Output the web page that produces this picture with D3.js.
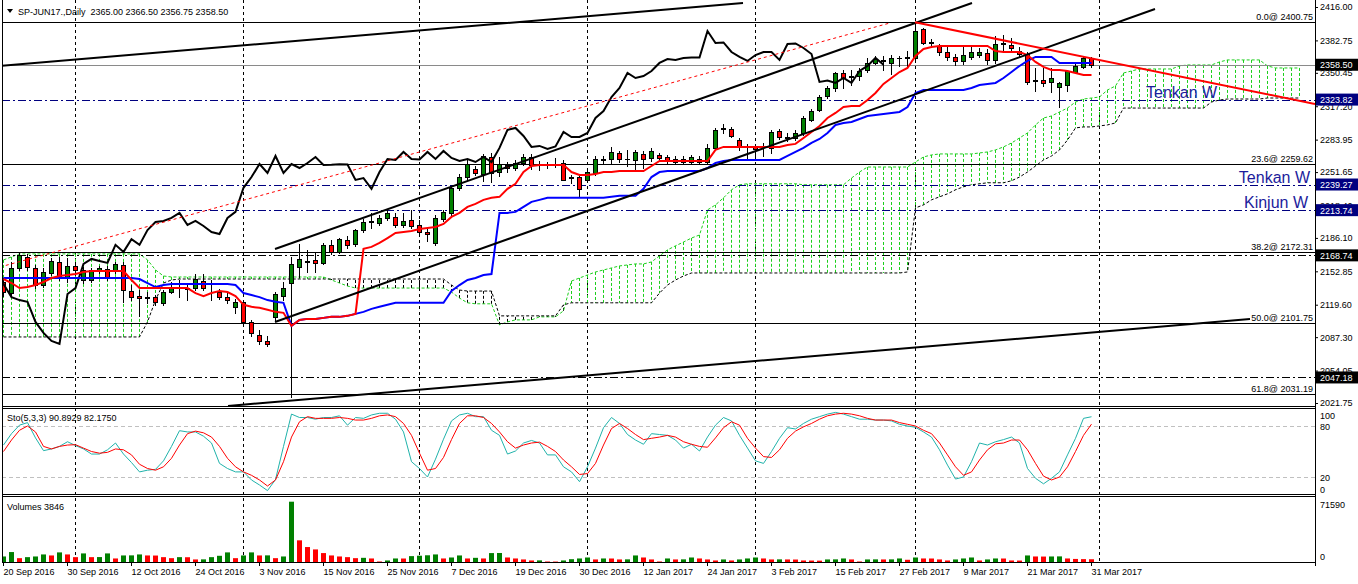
<!DOCTYPE html>
<html><head><meta charset="utf-8">
<script src="https://cdn.jsdelivr.net/npm/d3@7/dist/d3.min.js"></script>
<style>html,body{margin:0;padding:0;background:#fff;overflow:hidden}svg{display:block}</style>
</head><body>
<svg id="chart" width="1358" height="584"></svg>
<script>
// ---------------- DATA ----------------
const xTickBars = [0,8,16,24,32,40,48,56,64,72,80,88,96,104,112,120,128,136];
const xTickLabels = ["20 Sep 2016","30 Sep 2016","12 Oct 2016","24 Oct 2016","3 Nov 2016","15 Nov 2016","25 Nov 2016","7 Dec 2016","19 Dec 2016","30 Dec 2016","12 Jan 2017","24 Jan 2017","3 Feb 2017","15 Feb 2017","27 Feb 2017","9 Mar 2017","21 Mar 2017","31 Mar 2017"];
const monthStartBars = [9,30,52,73,94,114,137];
const priceTicks = [2416.00,2382.75,2350.45,2317.20,2283.95,2251.65,2218.40,2186.10,2152.85,2119.60,2087.30,2054.05,2021.75];

const opens = [2142.2,2131.2,2156.2,2167.2,2156.2,2139.2,2151.2,2162.2,2146.2,2158.2,
2144.2,2144.2,2153.2,2155.2,2153.2,2159.2,2133.2,2128.2,2127.2,2127.2,
2121.5,2132.2,2136.5,2136.2,2136.2,2143.2,2141.2,2132.2,2127.2,2117.5,
2122.5,2102.5,2089.5,2083.5,2107.5,2128.2,2141.2,2157.2,2162.2,2164.2,
2161.2,2179.2,2172.2,2184,2180.2,2194,2202,2201,2206,2207,
2199,2204,2199,2192,2181,2205,2211,2236,2246.7,2254.7,
2249.7,2266.7,2251.7,2258.7,2255.7,2260.7,2266.7,2259.5,2258.7,2259.7,
2260.7,2246.7,2246.7,2243.7,2250.7,2264.7,2264.7,2270.7,2264.7,2263.7,
2269.7,2265.7,2268.7,2266.7,2261.7,2264.7,2261.7,2264.7,2261.7,2275.7,
2294.6,2294.6,2283.6,2276.7,2277.7,2276.7,2275.7,2292.6,2286,2285.6,
2290.6,2303.5,2313.4,2327.4,2335.4,2350.3,2346.3,2347.3,2353.3,2360.3,
2362.3,2360.3,2365.2,2366.2,2365.2,2394.1,2380.2,2377.2,2371.2,2366.3,
2362.3,2366.3,2368.2,2370.2,2363.3,2379.2,2378.2,2372.2,2369.2,2342.4,
2343.4,2341.4,2336.4,2338.4,2351.3,2356.3,2365];
const highs = [2146.2,2162.2,2172.2,2170.2,2159.2,2156.2,2166.2,2167.2,2166.2,2162.2,
2157.2,2156.2,2158.2,2158.2,2162.2,2162.2,2139.2,2134.2,2132.2,2129.2,
2134.2,2142.2,2144.2,2141.2,2150.2,2150.2,2144.2,2135.2,2131.2,2125.2,
2124.2,2104.5,2094.5,2088.5,2132.2,2142.2,2167.2,2180.2,2174.2,2172.2,
2181.2,2184.2,2186,2188,2195,2205,2211,2209,2214,2211,
2211,2214,2204,2196,2209,2214,2237,2249.7,2263.7,2257.7,
2269.7,2270.7,2266.7,2261.7,2263.7,2269.7,2269.7,2262.7,2261.7,2265.7,
2263.7,2248.7,2248.7,2253.7,2267.7,2267.7,2276.7,2272.7,2273.7,2273.7,
2272.7,2275.7,2270.7,2268.7,2267.7,2267.7,2268.7,2267.7,2279.7,2295.6,
2299.6,2296.6,2285.6,2279.7,2278.7,2280.7,2293.6,2294.6,2290.6,2293.6,
2307.5,2314.4,2328.4,2337.4,2351.3,2353.3,2353.3,2355.3,2365.2,2367.2,
2367.2,2368.2,2367.2,2372.2,2400.75,2395.1,2384.2,2379.2,2376.2,2369.2,
2376.2,2377.2,2375.2,2374.2,2387.2,2388.2,2385.2,2376.2,2371.2,2355.3,
2355.3,2355.3,2341.4,2353.3,2361.3,2366.3,2366.5];
const lows = [2128.2,2128.2,2154.2,2154.2,2136.2,2137.2,2149.2,2144.2,2142.2,2149.2,
2141.2,2142.2,2151.2,2144.2,2151.2,2122.4,2124.2,2108.5,2121.5,2119.5,
2119.5,2131.2,2127.2,2124.2,2134.2,2134.2,2124.2,2125.2,2121.5,2111.5,
2101.5,2088.5,2080.5,2078.5,2104.5,2124.2,2027.7,2147.2,2152.2,2152.2,
2160.2,2170.2,2171.2,2176.2,2178.2,2192,2196,2199,2204,2197,
2197,2196,2191,2183,2179.2,2203,2208,2234,2243.9,2248.7,
2243,2242,2247.7,2251.7,2253.7,2258.7,2254.7,2253.7,2255.7,2256.7,
2243.7,2241,2227,2241.9,2248.7,2260.7,2260.7,2261.7,2257.7,2253.7,
2255.7,2262.7,2263.7,2260.7,2259.7,2260.7,2259.7,2259.7,2259.7,2274.7,
2290.6,2286.6,2273.7,2263.7,2263.7,2267.7,2270.7,2284.6,2282.6,2283.6,
2288.6,2302.5,2312.4,2325.4,2332.4,2335.4,2338.4,2343.4,2351.3,2359.3,
2353.3,2349.3,2357.3,2357.3,2364.2,2379.2,2377.2,2368.2,2363.3,2358.3,
2359.3,2364.3,2366.3,2359.3,2360.3,2373.2,2373.2,2366.3,2339.4,2332.4,
2337.4,2331.4,2316.5,2332.4,2350.3,2355.3,2356.75];
const closes = [2132.2,2156.2,2169.2,2157.2,2139.2,2152.2,2163.2,2148.2,2158.2,2154.2,
2154.2,2154.2,2156.2,2146.2,2160.2,2134.2,2127.2,2126.2,2126.2,2122.5,
2132.2,2137.2,2137.2,2135.2,2145.2,2136.2,2140.2,2127.2,2124.2,2122.5,
2102.5,2091.5,2083.5,2080.5,2130.2,2136.2,2160.2,2165.2,2163.2,2161.2,
2179.2,2172.2,2184.9,2179.2,2194,2202,2203,2206,2211,2199,
2203,2198,2192,2190,2206,2212,2236,2246.7,2259.7,2250.7,
2267.7,2250.7,2259.7,2255.7,2260.7,2266.7,2258.7,2259,2259.5,2259.2,
2243.9,2245.7,2235,2251.7,2264.7,2263.7,2271.7,2264.7,2264.2,2271.7,
2264.7,2272.7,2265.7,2262.7,2264.7,2261.7,2266.7,2261.7,2275.7,2293.6,
2295.6,2287.6,2276.7,2277.7,2274.7,2277.2,2291.6,2286.6,2286.6,2290.6,
2305.5,2312.4,2326.4,2335.4,2350.3,2345.3,2347.3,2352.3,2360.3,2364.2,
2363.3,2365.2,2365.7,2365.7,2392.1,2380.2,2380.7,2371.2,2366.3,2362.3,
2368.2,2371.2,2371.2,2363.3,2379.2,2379.7,2375.2,2369.2,2341.4,2342.9,
2340.4,2345.3,2340.4,2352.3,2357.3,2365.3,2358.5];

const tenkan = [2145.2,2141.2,2136.2,2137.2,2139.2,2142.2,2146.2,2148.2,2149.2,2150.2,
2152.2,2153.2,2153.2,2153.2,2153.2,2153.2,2144.2,2136.2,2136.2,2136.2,
2136.2,2136.2,2136.2,2136.2,2131.2,2128.2,2131.2,2133.2,2132.2,2128.2,
2119.5,2117.5,2116.5,2114.5,2112.5,2111.5,2098.5,2104.5,2105.5,2105.5,
2106.5,2107.5,2107.5,2108.5,2110.5,2175.2,2177.2,2181.2,2186,2191,
2192,2193,2195,2196,2197,2200,2207,2211,2217,2220,
2224,2226,2227,2235,2240,2251.7,2257.7,2258.7,2258.7,2258.7,
2258.7,2251.7,2248.7,2248.7,2249.7,2251.7,2251.7,2252.7,2252.7,2252.7,
2252.7,2257.7,2262.7,2262.7,2262.7,2262.7,2262.7,2262.7,2262.7,2273.7,
2276.7,2276.7,2276.7,2276.7,2276.7,2276.7,2276.7,2276.7,2278.7,2279.7,
2285.6,2291.6,2297.6,2305.5,2310.5,2316.4,2317.4,2317.4,2323.4,2330.4,
2339.4,2345.3,2351.3,2355.3,2367.2,2374.2,2376.2,2377.2,2377.2,2377.2,
2377.2,2377.2,2377.2,2377.2,2372.2,2371.2,2371.2,2371.2,2368.2,2361.3,
2356.3,2353.3,2353.3,2352.3,2350.3,2348.3,2348.3];
const kijun = [2146.2,2146.2,2146.2,2146.2,2146.2,2146.2,2146.2,2146.2,2146.2,2146.2,
2146.2,2146.2,2146.2,2146.2,2146.2,2146.2,2146.2,2145.2,2141.2,2137.2,
2139.2,2140.2,2140.2,2140.2,2140.2,2140.2,2140.2,2140.2,2140.2,2139.2,
2131.2,2129.2,2127.2,2124.2,2122.5,2121.5,2098.5,2104.5,2105.5,2105.5,
2106.5,2107.5,2107.5,2108.5,2110.5,2112.5,2115.5,2117.5,2119.5,2121.5,
2121.5,2121.5,2121.5,2121.5,2121.5,2121.5,2133.2,2139.2,2144.2,2146.2,
2149.2,2150.2,2211,2211,2212,2217,2222,2224,2226,2226,
2226,2226,2226,2226,2226,2226,2227,2228,2228,2228,
2235,2246.7,2251.7,2252.7,2252.7,2252.7,2252.7,2252.7,2255.7,2260.7,
2262.7,2263.7,2263.7,2263.7,2263.7,2263.7,2263.7,2263.7,2267.7,2271.7,
2275.7,2280.7,2284.6,2290.6,2298.6,2300.6,2301.6,2304.5,2307.5,2308.5,
2309.5,2310.5,2311.5,2316.4,2330.4,2333.4,2333.4,2333.4,2333.4,2333.4,
2333.4,2335.4,2338.4,2339.4,2340.4,2345.3,2351.3,2357.3,2362.3,2366.3,
2366.3,2366.3,2360.3,2360.3,2360.3,2360.3,2360.3];
const senkouA = [2164.2,2167.2,2170.2,2170.2,2170.2,2170.2,2170.2,2170.2,2170.2,2170.2,
2170.2,2170.2,2170.2,2170.2,2170.2,2170.2,2170.2,2170.2,2164.2,2154.2,
2148.2,2147.2,2147.2,2147.2,2147.2,2147.2,2147.2,2147.2,2147.2,2147.2,
2147.2,2147.2,2147.2,2147.2,2147.2,2147.2,2147.2,2147.2,2147.2,2147.2,
2147.2,2144.2,2141.2,2138.2,2136.2,2136.2,2136.2,2136.2,2136.2,2136.2,
2136.2,2136.2,2136.2,2136.2,2136.2,2136.2,2132.2,2126.2,2121.5,2120.5,
2120.5,2120.5,2099.5,2102.5,2104.5,2104.5,2104.5,2107.5,2107.5,2107.5,
2113.5,2143.2,2146.2,2149.2,2152.2,2154.2,2156.2,2158.2,2159.2,2160.2,
2160.2,2162.2,2168.2,2174.2,2178.2,2182,2186,2189,2214,2219,
2226,2234,2239,2240,2240,2240,2240,2240,2240,2240,
2239,2239,2239,2239,2239,2239,2245.7,2251.7,2256.7,2256.7,
2256.7,2256.7,2256.7,2256.7,2261.7,2266.7,2268.7,2269.7,2269.7,2269.7,
2269.7,2269.7,2270.7,2271.7,2273.7,2276.7,2280.6,2285.6,2290.6,2298.6,
2305.5,2307.5,2311.5,2315.4,2321.4,2324.4,2325.4,2326.4,2333.4,2337.4,
2350.3,2352.3,2354.3,2354.3,2354.3,2354.3,2354.3,2357.3,2358.3,2358.3,
2358.3,2358.3,2361.3,2363.3,2363.3,2363.3,2363.3,2363.3,2357.3,2355.3,
2355.3,2355.3,2355.3];
const senkouB = [2087.5,2087.5,2087.5,2087.5,2087.5,2087.5,2087.5,2087.5,2087.5,2087.5,
2087.5,2087.5,2087.5,2087.5,2087.5,2087.5,2087.5,2087.5,2102.5,2124.2,
2141.2,2144.2,2145.2,2145.2,2145.2,2145.2,2145.2,2145.2,2145.2,2145.2,
2145.2,2145.2,2145.2,2145.2,2145.2,2145.2,2145.2,2145.2,2145.2,2145.2,
2145.2,2145.2,2145.2,2145.2,2145.2,2145.2,2145.2,2145.2,2145.2,2145.2,
2145.2,2145.2,2145.2,2145.2,2145.2,2145.2,2139.2,2134.2,2133.2,2133.2,
2133.2,2133.2,2108.5,2108.5,2108.5,2108.5,2108.5,2108.5,2108.5,2108.5,
2119.5,2121.5,2121.5,2121.5,2121.5,2121.5,2121.5,2121.5,2121.5,2121.5,
2121.5,2121.5,2131.2,2139.2,2144.2,2148.2,2151.2,2151.2,2151.2,2151.2,
2151.2,2151.2,2151.2,2151.2,2151.2,2151.2,2151.2,2151.2,2151.2,2151.2,
2151.2,2151.2,2151.2,2151.2,2151.2,2151.2,2151.2,2151.2,2151.2,2151.2,
2151.2,2151.2,2151.2,2152.2,2216,2219,2224,2227,2230,2234,
2237,2239,2240,2241,2241,2241,2243,2246.7,2251.7,2257.7,
2263.7,2267.7,2273.7,2283.6,2295.6,2296.6,2296.6,2297.6,2298.6,2300.6,
2315.4,2315.4,2315.4,2315.4,2315.4,2315.4,2315.4,2315.4,2315.4,2315.4,
2315.4,2321.4,2323.4,2324.4,2324.4,2324.4,2324.4,2324.4,2325.4,2325.4,
2325.4,2325.4,2325.4];

const stochK = [57.6,71,81,84,66,51,53,56,61.5,57,
53,47,47,52,60,47,37,26,28,29,
39,56,74.5,73,73,68,60,36,30,26,
26,16.5,10.6,4,17,56,94,90,90,88,
90,90,92,81,90,89,93,95,95,88,
73,38,30,20,41,64.5,86,93,95,91,
91,75,69,47,50.6,60,63,60,46,46,
32,26,14.5,32,54,78,90,83,70,63.5,
58.5,71,70,69,63.5,54,58.5,50.6,67,81,
90,86,69,54,39,36,50,65.5,78,76.5,
83,88,91,94,96,94,91,88,88,87,
87,86,82,80,78.5,73,67,52,34,17.6,
20,38,60,57.6,61.5,64,67,60,30,18.5,
12,18.5,26,46,65.5,89,90.8929];
const stochD = [50,63.5,75,80,73,56,53,56,57.6,58,
54,50,48,49,53,52,46,35,30,28,
32,42,57.6,71,74,72,67,56,42,32,
26,22,16.5,9.4,16.5,38,67,85,91,89,
89,89,90,89,87,87,89,92,93,91,
83,69,48,28,30,43,64,83,92,92,
90,83,73,61.5,54,57.6,60,61,56,50,
40,32,23,24,36,57.6,77,83,77,70,
64,65.5,67,69,67,61.5,58.5,56,55,66,
78,85,81,65.5,54,44,43,52,65.5,74,
79,83,88,92,94,95,94,92,89,87,
87,87,84,82,80,75,71,60,46,32,
22,26,40,52,59,60,63.5,63.5,52,36,
21,16.5,20,32,50,69,82.175];
const stochLevels = [80,20];
const stochLabels = [100,80,20,0];

const volumes = [7100,12300,5100,6300,7100,9500,8300,11900,9500,6300,
10700,6300,6400,10700,4750,8300,8400,9500,8300,8200,
6300,5100,6300,6200,3600,3700,6300,7900,11900,5100,
8300,11900,8300,8400,5100,7100,71590,26100,18200,15400,
11100,8300,7100,6300,5100,5500,4750,1200,2400,4750,
4700,7500,8000,8500,9500,4750,5900,8300,4750,5500,
4750,11100,11200,5900,4750,3600,2400,2500,1200,1100,
2400,3900,4750,5900,3600,4750,4700,3600,3700,8300,
5900,3600,1200,4750,3600,3700,5900,4750,3600,2400,
3600,2400,3600,4750,5900,4750,3600,3700,3600,3500,
2400,2300,2200,3600,3700,4750,3600,1200,3600,3700,
3600,3700,4750,3200,5900,4750,4700,3600,2400,3600,
4750,5900,2400,3600,4750,4700,2400,2300,8300,7100,
7000,7100,7200,4750,4200,4000,3846];
const volMax = 71590;

const fibLevels = ["0.0","23.6","38.2","50.0","61.8"];
const fibPrices = [2400.75,2259.62,2172.31,2101.75,2031.19];
const navyLevels = [2323.82,2239.27,2213.74];
const blackLevels = [2168.74,2047.18];
const bidPrice = 2358.50;
const levelNotes = ["Tenkan W","Tenkan W","Kinjun W"];
// trend objects: [bar1, price1, bar2, price2]
const blackTrendlines = [
  [-0.375,2357.3,92.5,2420.0],
  [34,2175.1,121.125,2420.0],
  [34,2102.4,144,2414.0],
  [28.125,2018.8,155.875,2105.4]
];
const redDottedLine = [-0.375,2157.15,110.875,2400.1];
const redTrendline = [114,2400.75,164,2319.4];
const titleText = "SP-JUN17.,Daily  2365.00 2366.50 2356.75 2358.50";
const stochTitle = "Sto(5,3,3) 90.8929 82.1750";
const volTitle = "Volumes 3846";

// ---------------- DRAW ----------------
const FONT = '"Liberation Sans", Arial, sans-serif';
const GREEN_C = "#008000", RED_C = "#ff0000", KUMO_G = "#1ccf1c", NAVY = "#000080";
const svg = d3.select("#chart").attr("font-family", FONT).attr("font-size", 9);
const LX = 2, RX = 1315;

const x = d3.scaleLinear().domain([0,1]).range([3,11]);
const yP = d3.scaleLinear().domain([2021.75,2416]).range([403,7]);
const yS = d3.scaleLinear().domain([0,100]).range([494,409]);
const yV = d3.scaleLinear().domain([0,volMax]).range([562.5,501.7]);

const defs = svg.append("defs");
defs.append("clipPath").attr("id","cm").append("rect").attr("x",LX+0.5).attr("y",1).attr("width",RX-LX-0.5).attr("height",405);
defs.append("clipPath").attr("id","cs").append("rect").attr("x",LX+0.5).attr("y",409).attr("width",RX-LX-0.5).attr("height",85);
defs.append("clipPath").attr("id","cv").append("rect").attr("x",LX+0.5).attr("y",497).attr("width",RX-LX-0.5).attr("height",65.5);

// grid
const grid = svg.append("g");
monthStartBars.forEach(b => {
  grid.append("line").attr("x1",x(b)+0.5).attr("x2",x(b)+0.5).attr("y1",0).attr("y2",562)
    .attr("stroke","#000").attr("stroke-width",1).attr("stroke-dasharray","3,3");
});

// ---- main panel ----
const gm = svg.append("g").attr("clip-path","url(#cm)");
// kumo hatching
const kumo = gm.append("g");
senkouA.forEach((a,i) => {
  const b = senkouB[i];
  kumo.append("line").attr("x1",x(i)+0.5).attr("x2",x(i)+0.5)
    .attr("y1",yP(a)).attr("y2",yP(b))
    .attr("stroke", a >= b ? KUMO_G : "#000").attr("stroke-width",1).attr("stroke-dasharray","3,2");
});
const idxLine = (shift) => d3.line().x((d,i)=>x(i+shift)+0.5).y(d=>yP(d));
gm.append("path").datum(senkouA).attr("d",idxLine(0)).attr("fill","none").attr("stroke",KUMO_G).attr("stroke-width",1).attr("stroke-dasharray","3,2");
gm.append("path").datum(senkouB).attr("d",idxLine(0)).attr("fill","none").attr("stroke","#000").attr("stroke-width",1).attr("stroke-dasharray","3,2");

// horizontal lines
fibPrices.forEach((p,i) => {
  const yy = Math.round(yP(p))+0.5;
  gm.append("line").attr("x1",LX).attr("x2",RX).attr("y1",yy).attr("y2",yy).attr("stroke","#000").attr("stroke-width",1);
});
gm.append("line").attr("x1",LX).attr("x2",RX).attr("y1",Math.round(yP(bidPrice))+0.5).attr("y2",Math.round(yP(bidPrice))+0.5).attr("stroke","#8a8a8a").attr("stroke-width",1);
navyLevels.forEach(p => {
  const yy = Math.round(yP(p))+0.5;
  gm.append("line").attr("x1",LX).attr("x2",RX).attr("y1",yy).attr("y2",yy).attr("stroke",NAVY).attr("stroke-width",1).attr("stroke-dasharray","8,3,2,3");
});
blackLevels.forEach(p => {
  const yy = Math.round(yP(p))+0.5;
  gm.append("line").attr("x1",LX).attr("x2",RX).attr("y1",yy).attr("y2",yy).attr("stroke","#000").attr("stroke-width",1).attr("stroke-dasharray","8,3,2,3");
});

// candles
const cg = gm.append("g");
opens.forEach((o,i) => {
  const c = closes[i], h = highs[i], l = lows[i];
  const cx = x(i);
  cg.append("line").attr("x1",cx+0.5).attr("x2",cx+0.5).attr("y1",Math.round(yP(h))).attr("y2",Math.round(yP(l))+1).attr("stroke","#000");
  const yo = Math.round(yP(o)), yc = Math.round(yP(c));
  if (Math.abs(yo-yc) < 1) {
    cg.append("line").attr("x1",cx-2).attr("x2",cx+3).attr("y1",yo+0.5).attr("y2",yo+0.5).attr("stroke","#000");
  } else {
    const top = Math.min(yo,yc), bot = Math.max(yo,yc);
    cg.append("rect").attr("x",cx-1.5).attr("y",top+0.5).attr("width",4).attr("height",bot-top)
      .attr("fill", c > o ? GREEN_C : RED_C).attr("stroke","#000").attr("stroke-width",1);
  }
});

// ichimoku lines
gm.append("path").datum(closes).attr("d",idxLine(-26)).attr("fill","none").attr("stroke","#000").attr("stroke-width",2);
gm.append("path").datum(kijun).attr("d",idxLine(0)).attr("fill","none").attr("stroke","#0000ff").attr("stroke-width",2);
gm.append("path").datum(tenkan).attr("d",idxLine(0)).attr("fill","none").attr("stroke","#ff0000").attr("stroke-width",2);

// trend objects
const seg = (t) => [[x(t[0]),yP(t[1])],[x(t[2]),yP(t[3])]];
gm.append("path").attr("d",d3.line()(seg(redDottedLine))).attr("stroke","#ff0000").attr("stroke-width",1).attr("stroke-dasharray","3,3").attr("fill","none");
blackTrendlines.forEach(t => {
  gm.append("path").attr("d",d3.line()(seg(t))).attr("stroke","#000").attr("stroke-width",2).attr("fill","none");
});
gm.append("path").attr("d",d3.line()(seg(redTrendline))).attr("stroke","#ff0000").attr("stroke-width",2).attr("fill","none");

// fib labels
fibPrices.forEach((p,i) => {
  svg.append("text").attr("x",1313).attr("y",Math.round(yP(p))-2).attr("text-anchor","end")
    .attr("fill","#000").text(fibLevels[i] + "@ " + d3.format(".2f")(p));
});
// notes
const noteX = [1146,1310,1308], noteAnchor = ["start","end","end"];
navyLevels.forEach((p,i) => {
  svg.append("text").attr("x",noteX[i]).attr("y",Math.round(yP(p))-2).attr("text-anchor",noteAnchor[i])
    .attr("font-size",16).attr("fill","#1c1c9c").text(levelNotes[i]);
});

// ---- stochastic ----
const gs = svg.append("g").attr("clip-path","url(#cs)");
stochLevels.forEach(v => {
  gs.append("line").attr("x1",LX).attr("x2",RX).attr("y1",Math.round(yS(v))+0.5).attr("y2",Math.round(yS(v))+0.5)
    .attr("stroke","#c0c0c0").attr("stroke-dasharray","4,3");
});
const sLine = d3.line().x((d,i)=>x(i)+0.5).y(d=>yS(d));
gs.append("path").datum(stochK).attr("d",sLine).attr("fill","none").attr("stroke","#20b2aa").attr("stroke-width",1);
gs.append("path").datum(stochD).attr("d",sLine).attr("fill","none").attr("stroke","#ff0000").attr("stroke-width",1);

// ---- volumes ----
const gv = svg.append("g").attr("clip-path","url(#cv)");
volumes.forEach((v,i) => {
  const up = i === 0 ? true : v > volumes[i-1];
  const top = yV(v);
  gv.append("rect").attr("x",x(i)-2).attr("y",top).attr("width",5).attr("height",Math.max(0.8,yV(0)-top))
    .attr("fill", up ? GREEN_C : RED_C);
});

// ---- frames ----
const fr = svg.append("g").attr("stroke","#000").attr("stroke-width",1);
[[406.5],[408.5],[494.5],[496.5],[562.5]].forEach(d => fr.append("line").attr("x1",LX).attr("x2",RX+0.5).attr("y1",d[0]).attr("y2",d[0]));
fr.append("line").attr("x1",LX+0.5).attr("x2",LX+0.5).attr("y1",0).attr("y2",563);
fr.append("line").attr("x1",RX+0.5).attr("x2",RX+0.5).attr("y1",0).attr("y2",566);

// ---- price axis ----
const pa = svg.append("g").attr("transform",`translate(${RX},0)`)
  .call(d3.axisRight(yP).tickValues(priceTicks).tickFormat(d3.format(".2f")).tickSize(3).tickPadding(2));
pa.select(".domain").remove();
pa.selectAll("text").attr("font-family",FONT).attr("font-size",9).attr("fill","#000");

// value boxes
const boxVals = [bidPrice].concat(navyLevels, blackLevels);
const boxCols = ["#000", NAVY, NAVY, NAVY, "#000", "#000"];
boxVals.forEach((v,i) => {
  const yy = yP(v);
  svg.append("rect").attr("x",RX+1).attr("y",yy-6).attr("width",43).attr("height",12).attr("fill",boxCols[i]);
  svg.append("text").attr("x",RX+5).attr("y",yy+3.5).attr("fill","#fff").text(d3.format(".2f")(v));
});

// stoch axis labels
stochLabels.forEach(v => {
  let yy = yS(v) + 3.5;
  if (v === 100) yy = yS(v) + 9.5;
  if (v === 0) yy = yS(v) - 1.5;
  svg.append("text").attr("x",RX+5).attr("y",yy).text(v);
});
svg.append("text").attr("x",RX+5).attr("y",yV(volMax)+6.5).text(volMax);
svg.append("text").attr("x",RX+5).attr("y",yV(0)-3).text(0);

// time axis
const ta = svg.append("g").attr("transform","translate(0,563)")
  .call(d3.axisBottom(x).tickValues(xTickBars).tickFormat((d,i)=>xTickLabels[i]).tickSize(3).tickPadding(3));
ta.select(".domain").remove();
ta.selectAll("text").attr("text-anchor","start").attr("font-family",FONT).attr("font-size",9).attr("fill","#000");

// titles
svg.append("path").attr("d","M7,9 L13,9 L10,13 Z").attr("fill","#000");
svg.append("text").attr("x",18).attr("y",14.5).attr("xml:space","preserve").style("white-space","pre").text(titleText);
svg.append("text").attr("x",7).attr("y",420.5).style("white-space","pre").text(stochTitle);
svg.append("text").attr("x",7).attr("y",510).text(volTitle);
</script>
</body></html>
